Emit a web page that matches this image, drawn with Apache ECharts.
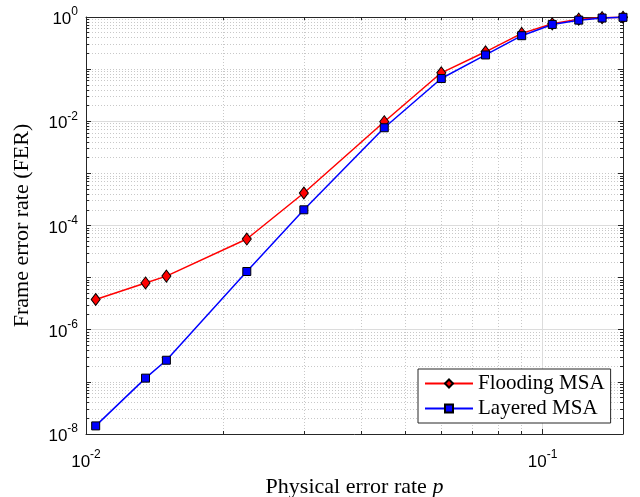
<!DOCTYPE html>
<html><head><meta charset="utf-8">
<script src="https://cdn.jsdelivr.net/npm/echarts@6/dist/echarts.min.js"></script>
<style>html,body{margin:0;padding:0;background:#fff}#c{width:640px;height:497px}</style>
</head><body><div id="c"></div>
<script>
const errorRates = [0.0105, 0.0135, 0.015, 0.0225, 0.03, 0.045, 0.06, 0.075, 0.09, 0.105, 0.12, 0.135, 0.15];
const floodingFER = [3.8e-6, 7.9e-6, 1.07e-5, 5.5e-5, 4.2e-4, 9.8e-3, 0.085, 0.215, 0.485, 0.74, 0.91, 0.97, 0.99];
const layeredFER = [1.43e-8, 1.18e-7, 2.6e-7, 1.31e-5, 2.0e-4, 7.5e-3, 0.066, 0.187, 0.438, 0.72, 0.87, 0.955, 0.985];
const seriesNames = ['Flooding MSA', 'Layered MSA'];
const xTickExponents = [-2, -1];
const yTickExponents = [0, -2, -4, -6, -8];
const xTitle = 'Physical error rate';
const yTitle = 'Frame error rate (FER)';

const SANS = 'Liberation Sans, Arial, sans-serif';
const SERIF = 'Liberation Serif, Times New Roman, serif';
const richTicks = {
  b: {fontSize: 17, fontFamily: SANS, color: '#000', lineHeight: 22, verticalAlign: 'bottom'},
  e: {fontSize: 12, fontFamily: SANS, color: '#000', lineHeight: 22, verticalAlign: 'top'}
};
function powLabel(allowed) {
  return function (v) {
    const e = Math.round(Math.log10(v));
    if (Math.abs(Math.pow(10, e) - v) / v > 1e-6) return '';
    if (allowed.indexOf(e) < 0) return '';
    return '{b|10}{e|' + e + '}';
  };
}
const axisLineStyle = {color: '#262626', width: 1};
const minorDotted = {color: '#c8c8c8', width: 1, type: [1, 2]};
const majorSolid = '#dcdcdc';

const chart = echarts.init(document.getElementById('c'), null, {renderer: 'canvas'});
chart.setOption({
  animation: false,
  backgroundColor: '#fff',
  grid: {left: 86, top: 17, right: 17, bottom: 63, containLabel: false, outerBoundsMode: 'none'},
  legend: {
    data: seriesNames,
    orient: 'vertical',
    left: 418, top: 369,
    padding: [4, 6, 4, 6],
    itemGap: 4,
    itemWidth: 48, itemHeight: 10,
    backgroundColor: '#fff',
    borderColor: '#262626', borderWidth: 1, borderRadius: 0,
    textStyle: {fontFamily: SERIF, fontSize: 21, color: '#000', lineHeight: 20}
  },
  xAxis: [{
    type: 'log', logBase: 10, min: 0.01, max: 0.15, position: 'bottom',
    name: xTitle + ' {i|p}', nameLocation: 'middle', nameGap: 40,
    nameTextStyle: {fontFamily: SERIF, fontSize: 22, color: '#000',
      rich: {i: {fontFamily: SERIF, fontSize: 22, fontStyle: 'italic', color: '#000'}}},
    axisLine: {show: true, lineStyle: axisLineStyle},
    axisTick: {show: true, inside: true, length: 5, lineStyle: axisLineStyle},
    minorTick: {show: true, splitNumber: 9, length: 3, lineStyle: axisLineStyle},
    axisLabel: {formatter: powLabel(xTickExponents), margin: 15, rich: richTicks, showMinLabel: true, showMaxLabel: true},
    splitLine: {show: true, lineStyle: {color: majorSolid, width: 1}},
    minorSplitLine: {show: true, lineStyle: minorDotted}
  }, {
    type: 'log', logBase: 10, min: 0.01, max: 0.15, position: 'top',
    axisLine: {show: true, lineStyle: axisLineStyle},
    axisTick: {show: true, inside: true, length: 5, lineStyle: axisLineStyle},
    minorTick: {show: true, splitNumber: 9, length: 3, lineStyle: axisLineStyle},
    axisLabel: {show: false},
    splitLine: {show: false}, minorSplitLine: {show: false}
  }],
  yAxis: [{
    type: 'log', logBase: 10, min: 1e-8, max: 1, splitNumber: 8, position: 'left',
    name: yTitle, nameLocation: 'middle', nameGap: 53, nameRotate: 90,
    nameTextStyle: {fontFamily: SERIF, fontSize: 22, color: '#000'},
    axisLine: {show: true, lineStyle: axisLineStyle},
    axisTick: {show: true, inside: true, length: 5, lineStyle: axisLineStyle},
    minorTick: {show: true, splitNumber: 9, length: 3, lineStyle: axisLineStyle},
    axisLabel: {formatter: powLabel(yTickExponents), margin: 8, rich: richTicks, showMinLabel: true, showMaxLabel: true},
    splitLine: {show: true, lineStyle: minorDotted},
    minorSplitLine: {show: true, lineStyle: minorDotted}
  }, {
    type: 'log', logBase: 10, min: 1e-8, max: 1, splitNumber: 8, position: 'right',
    axisLine: {show: true, lineStyle: axisLineStyle},
    axisTick: {show: true, inside: true, length: 5, lineStyle: axisLineStyle},
    minorTick: {show: true, splitNumber: 9, length: 3, lineStyle: axisLineStyle},
    axisLabel: {show: false},
    splitLine: {show: true, lineStyle: {color: [majorSolid, 'rgba(0,0,0,0)'], width: 1}},
    minorSplitLine: {show: false}
  }],
  series: [{
    name: seriesNames[0], type: 'line', xAxisIndex: 0, yAxisIndex: 0,
    data: errorRates.map((x, i) => [x, floodingFER[i]]),
    symbol: 'diamond', symbolSize: [9, 12], clip: false, z: 3,
    color: '#ff0000',
    lineStyle: {color: '#ff0000', width: 1.5},
    itemStyle: {color: '#ff0000', borderColor: '#000', borderWidth: 1}
  }, {
    name: seriesNames[1], type: 'line', xAxisIndex: 0, yAxisIndex: 0,
    data: errorRates.map((x, i) => [x, layeredFER[i]]),
    symbol: 'rect', symbolSize: 8, clip: false, z: 4,
    color: '#0000ff',
    lineStyle: {color: '#0000ff', width: 1.5},
    itemStyle: {color: '#0000ff', borderColor: '#000', borderWidth: 1}
  }]
});
</script></body></html>
